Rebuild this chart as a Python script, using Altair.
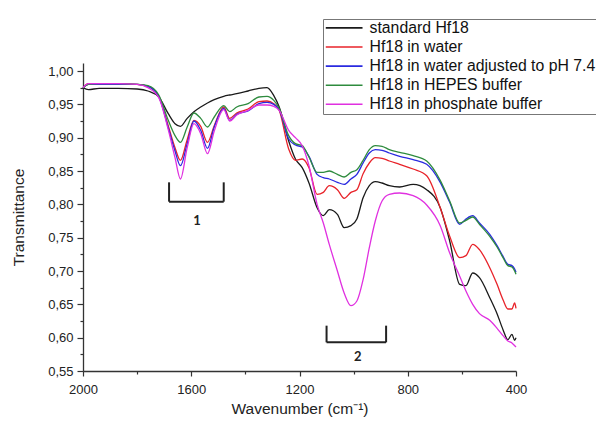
import altair as alt
import pandas as pd

# ---- data ----
wavenumber = [2000, 1980, 1940, 1870, 1800, 1760, 1720, 1685, 1660, 1640,
              1615, 1590, 1565, 1540, 1515, 1480, 1458, 1432, 1390, 1350,
              1320, 1295, 1275, 1240, 1215, 1190, 1165, 1135, 1112, 1090,
              1060, 1035, 1010, 988, 965, 942, 920, 895, 868, 830,
              780, 730, 680, 645, 608, 585, 560, 535, 497, 470,
              448, 430, 415, 405, 400]

standard = [0.975, 0.972, 0.974, 0.974, 0.973, 0.970, 0.961, 0.936, 0.921, 0.917,
            0.929, 0.939, 0.946, 0.952, 0.957, 0.962, 0.964, 0.966, 0.970, 0.974,
            0.975, 0.963, 0.946, 0.895, 0.868, 0.855, 0.832, 0.795, 0.783, 0.792,
            0.785, 0.765, 0.768, 0.778, 0.810, 0.828, 0.834, 0.832, 0.828, 0.826,
            0.830, 0.822, 0.795, 0.745, 0.680, 0.678, 0.697, 0.690, 0.660, 0.636,
            0.612, 0.597, 0.605, 0.596, 0.600]

water = [0.975, 0.981, 0.981, 0.981, 0.980, 0.977, 0.962, 0.918, 0.885, 0.866,
         0.897, 0.926, 0.917, 0.893, 0.918, 0.946, 0.929, 0.937, 0.943, 0.954,
         0.955, 0.951, 0.941, 0.883, 0.866, 0.868, 0.855, 0.815, 0.818, 0.828,
         0.822, 0.809, 0.818, 0.822, 0.846, 0.862, 0.870, 0.869, 0.865, 0.860,
         0.853, 0.843, 0.795, 0.752, 0.720, 0.723, 0.740, 0.732, 0.705, 0.680,
         0.657, 0.643, 0.643, 0.652, 0.644]

ph74 = [0.975, 0.980, 0.980, 0.980, 0.980, 0.977, 0.962, 0.915, 0.880, 0.858,
        0.891, 0.925, 0.911, 0.884, 0.916, 0.944, 0.926, 0.935, 0.940, 0.951,
        0.953, 0.950, 0.942, 0.898, 0.889, 0.886, 0.872, 0.845, 0.840, 0.838,
        0.833, 0.830, 0.838, 0.845, 0.862, 0.877, 0.882, 0.881, 0.877, 0.872,
        0.867, 0.860, 0.833, 0.803, 0.770, 0.778, 0.783, 0.772, 0.755, 0.738,
        0.722, 0.710, 0.708, 0.703, 0.698]

hepes = [0.975, 0.980, 0.981, 0.981, 0.980, 0.978, 0.964, 0.926, 0.903, 0.893,
         0.916, 0.937, 0.929, 0.916, 0.931, 0.948, 0.939, 0.946, 0.951, 0.961,
         0.962, 0.956, 0.944, 0.903, 0.891, 0.888, 0.871, 0.848, 0.848, 0.850,
         0.845, 0.841, 0.848, 0.852, 0.866, 0.882, 0.888, 0.887, 0.882, 0.878,
         0.873, 0.865, 0.836, 0.805, 0.772, 0.776, 0.781, 0.770, 0.752, 0.736,
         0.720, 0.708, 0.706, 0.700, 0.695]

phosphate = [0.975, 0.981, 0.981, 0.981, 0.980, 0.975, 0.960, 0.912, 0.870, 0.838,
             0.885, 0.921, 0.906, 0.876, 0.910, 0.942, 0.925, 0.934, 0.941, 0.949,
             0.949, 0.947, 0.941, 0.911, 0.900, 0.888, 0.858, 0.800, 0.772, 0.740,
             0.700, 0.667, 0.648, 0.655, 0.687, 0.735, 0.775, 0.805, 0.815, 0.817,
             0.813, 0.799, 0.768, 0.727, 0.692, 0.670, 0.650, 0.636, 0.626, 0.614,
             0.603, 0.595, 0.592, 0.588, 0.586]

series_names = ["standard Hf18", "Hf18 in water", "Hf18 in water adjusted to pH 7.4",
                "Hf18 in HEPES buffer", "Hf18 in phosphate buffer"]
series_colors = ["#1a1a1a", "#e8232a", "#2a2ae0", "#2e8b3e", "#e030e0"]

x_ticks = [2000, 1800, 1600, 1400, 1200, 1000, 800, 600, 400]
y_major = [0.55, 0.60, 0.65, 0.70, 0.75, 0.80, 0.85, 0.90, 0.95, 1.00]
y_minor = [0.575, 0.625, 0.675, 0.725, 0.775, 0.825, 0.875, 0.925, 0.975]

bracket_names = ["1", "2"]
bracket_left = [1682, 1100]
bracket_right = [1480, 880]
bracket_top = [0.833, 0.618]
bracket_bottom = [0.804, 0.593]
bracket_label_x = [1579, 985]
bracket_label_y = [0.775, 0.571]

# ---- tables ----
rows = []
for name, vals in zip(series_names, [standard, water, ph74, hepes, phosphate]):
    for w, v in zip(wavenumber, vals):
        rows.append({"wn": w, "T": v, "series": name})
df = pd.DataFrame(rows)

br = pd.DataFrame({"name": bracket_names, "left": bracket_left, "right": bracket_right,
                   "top": bracket_top, "bottom": bracket_bottom,
                   "lx": bracket_label_x, "ly": bracket_label_y})

FONT = "Liberation Sans"
xscale = alt.Scale(domain=[2000, 400], nice=False, zero=False)
yscale = alt.Scale(domain=[0.55, 1.012], nice=False, zero=False)

x_axis = alt.Axis(
    values=x_ticks,
    labelExpr="datum.value % 400 == 0 ? format(datum.value, 'd') : ''",
    tickSize={"condition": {"test": "datum.value % 400 == 0", "value": 5}, "value": 3},
    title="Wavenumber (cm⁻¹)", titleFont=FONT, titleFontSize=15.5, titleFontWeight="normal",
    titleColor="#222", titlePadding=5,
    labelFont=FONT, labelFontSize=13, labelColor="#222", labelPadding=7,
    labelOverlap=False, labelFlush=False,
    domainColor="#333", domainWidth=1.3, tickColor="#333", tickWidth=1.2, grid=False,
)
y_axis = alt.Axis(
    orient="left", values=y_major,
    labelExpr="replace(format(datum.value, '.2f'), '.', ',')",
    tickSize=6,
    title="Transmittance", titleFont=FONT, titleFontSize=15.5, titleFontWeight="normal",
    titleColor="#222", titlePadding=21,
    labelFont=FONT, labelFontSize=13, labelColor="#222", labelPadding=4,
    labelOverlap=False,
    domainColor="#333", domainWidth=1.3, tickColor="#333", tickWidth=1.2, grid=False,
)
y_minor_axis = alt.Axis(
    orient="left", values=y_minor, labels=False, domain=False, title=None,
    tickSize=3, tickColor="#333", tickWidth=1.2, grid=False,
)

lines = alt.Chart(df).mark_line(strokeWidth=1.3, interpolate="monotone").encode(
    x=alt.X("wn:Q", scale=xscale, axis=x_axis),
    y=alt.Y("T:Q", scale=yscale, axis=y_axis),
    color=alt.Color("series:N", scale=alt.Scale(domain=series_names, range=series_colors),
                    legend=alt.Legend(title=None, orient="none", legendX=240, legendY=-44,
                                      symbolType="M-3,0H3", symbolSize=150, symbolStrokeWidth=1.6,
                                      symbolOffset=12.25,
                                      labelFont=FONT, labelFontSize=15.8, labelColor="#111",
                                      labelLimit=400, labelOffset=17.5, rowPadding=2.1,
                                      strokeColor="#777", fillColor="white", padding=1)),
    order=alt.Order("wn:Q"),
)

base_b = alt.Chart(br)
left_v = base_b.mark_rule(color="#222", strokeWidth=2).encode(
    x=alt.X("left:Q", scale=xscale),
    y=alt.Y("top:Q", scale=yscale, axis=y_minor_axis), y2="bottom:Q")
right_v = base_b.mark_rule(color="#222", strokeWidth=2).encode(
    x=alt.X("right:Q", scale=xscale),
    y=alt.Y("top:Q", scale=yscale, axis=None), y2="bottom:Q")
horiz = base_b.mark_rule(color="#222", strokeWidth=2).encode(
    x=alt.X("left:Q", scale=xscale), x2="right:Q",
    y=alt.Y("bottom:Q", scale=yscale, axis=None))
labels = base_b.mark_text(font="Lato", fontWeight="bold", fontSize=13, color="#222").encode(
    x=alt.X("lx:Q", scale=xscale),
    y=alt.Y("ly:Q", scale=yscale, axis=None), text="name:N")

chart = alt.layer(lines, left_v, right_v, horiz, labels).resolve_axis(
    y="independent"
).properties(
    width=433, height=308,
    autosize=alt.AutoSizeParams(type="none"),
    padding={"left": 83, "top": 63, "right": 80, "bottom": 53},
    background="white",
).configure_view(stroke=None)

chart.save("out.html", embed_options={"renderer": "svg", "actions": False})
